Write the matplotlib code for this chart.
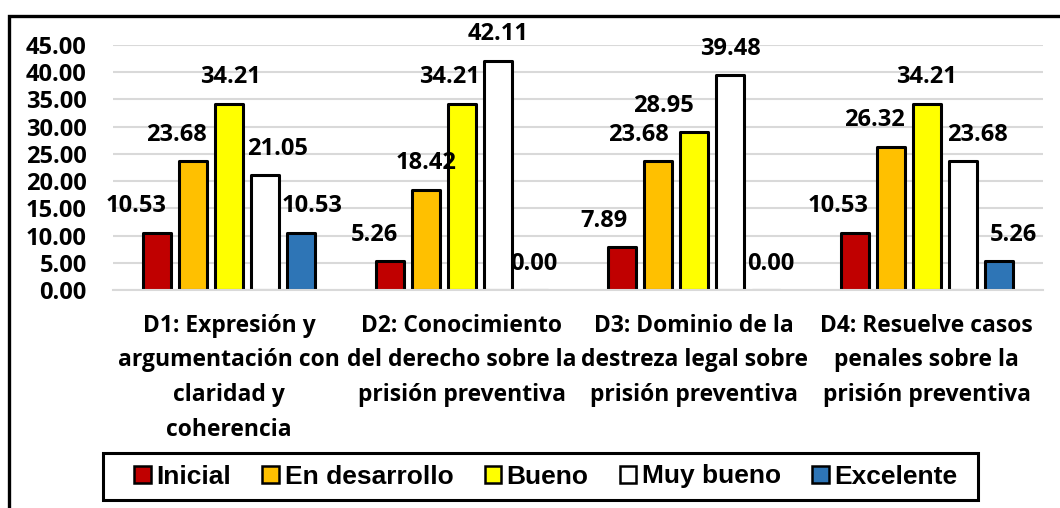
import matplotlib
matplotlib.use("Agg")
import matplotlib.pyplot as plt
import matplotlib.patches as patches
import numpy as np

# Datos del gráfico (porcentajes por dimensión y nivel)
categorias = [
    "D1: Expresión y\nargumentación con\nclaridad y\ncoherencia",
    "D2: Conocimiento\ndel derecho sobre la\nprisión preventiva",
    "D3: Dominio de la\ndestreza legal sobre\nprisión preventiva",
    "D4: Resuelve casos\npenales sobre la\nprisión preventiva",
]
niveles = ["Inicial", "En desarrollo", "Bueno", "Muy bueno", "Excelente"]
inicial = [10.53, 5.26, 7.89, 10.53]
en_desarrollo = [23.68, 18.42, 23.68, 26.32]
bueno = [34.21, 34.21, 28.95, 34.21]
muy_bueno = [21.05, 42.11, 39.48, 23.68]
excelente = [10.53, 0.00, 0.00, 5.26]
y_ticks = [0, 5, 10, 15, 20, 25, 30, 35, 40, 45]

series = [inicial, en_desarrollo, bueno, muy_bueno, excelente]
colores = ["#C00000", "#FFC000", "#FFFF00", "#FFFFFF", "#2E75B6"]

# desplazamiento horizontal de cada etiqueta (px), como en el original
desp_etiquetas = [
    [-21, -15, -18, -17],
    [-17, 0, -20, -16],
    [1, -12, -31, 0],
    [12, 0, 0, 15],
    [11, 0, 4, 15],
]

FUENTE = "Open Sans"
TAM = 17
TAM_CAT = 16.5

fig = plt.figure(figsize=(10.6, 5.08), dpi=100)
ax = fig.add_axes([113 / 1060, 1 - 290 / 508, 930 / 1060, 245 / 508])

x = np.arange(len(categorias))
paso = 36 / 232.5
ancho = 28 / 232.5

for i, (vals, col) in enumerate(zip(series, colores)):
    pos = x + (i - 2) * paso
    ax.bar(pos, vals, width=ancho, color=col, edgecolor="black",
           linewidth=2.2, joinstyle="round", label=niveles[i], zorder=2)
    for j, v in enumerate(vals):
        ax.annotate(f"{v:.2f}", (pos[j], v),
                    xytext=(desp_etiquetas[i][j] * 0.72, 19),
                    textcoords="offset points", ha="center", va="center",
                    fontsize=TAM, fontweight="bold", family=FUENTE,
                    zorder=1.5 if v == 0 else 3)

ax.set_xlim(-0.5, len(categorias) - 0.5)
ax.set_ylim(0, 45)
ax.set_yticks(y_ticks)
ax.set_yticklabels([f"{t:.2f}" for t in y_ticks], fontsize=TAM,
                   fontweight="bold", family=FUENTE)
ax.set_xticks(x)
ax.set_xticklabels(categorias, fontsize=TAM_CAT, fontweight="bold",
                   family=FUENTE, linespacing=1.6, va="top")
ax.tick_params(axis="both", length=0)
ax.tick_params(axis="y", pad=19)
ax.tick_params(axis="x", pad=17)
ax.grid(axis="y", color="#D9D9D9", linewidth=1.5, zorder=0)
ax.set_axisbelow(True)
for lado in ["left", "right", "top"]:
    ax.spines[lado].set_visible(False)
ax.spines["bottom"].set_color("#D9D9D9")
ax.spines["bottom"].set_linewidth(1.5)

leg = fig.legend(loc="center", bbox_to_anchor=(546 / 1060, 1 - 476.5 / 508),
                 ncol=5, frameon=False, handlelength=0.62,
                 handleheight=0.62, handletextpad=0.22, columnspacing=1.18,
                 prop={"family": "Liberation Sans", "weight": "bold",
                       "size": 19})
for h in leg.legend_handles:
    h.set_linewidth(1.8)

# recuadro de la leyenda
caja = patches.Rectangle((103 / 1060, 1 - 500 / 508), 875 / 1060, 47 / 508,
                         transform=fig.transFigure, fill=False,
                         edgecolor="black", linewidth=2.2)
fig.add_artist(caja)

# marco exterior del gráfico (solo se ven izquierda y arriba)
marco = patches.Rectangle((9 / 1060, -0.1), 1.2, 1.1 - 16 / 508,
                          transform=fig.transFigure, fill=False,
                          edgecolor="black", linewidth=2.4, clip_on=False)
fig.add_artist(marco)

fig.savefig("out.png", dpi=100)
